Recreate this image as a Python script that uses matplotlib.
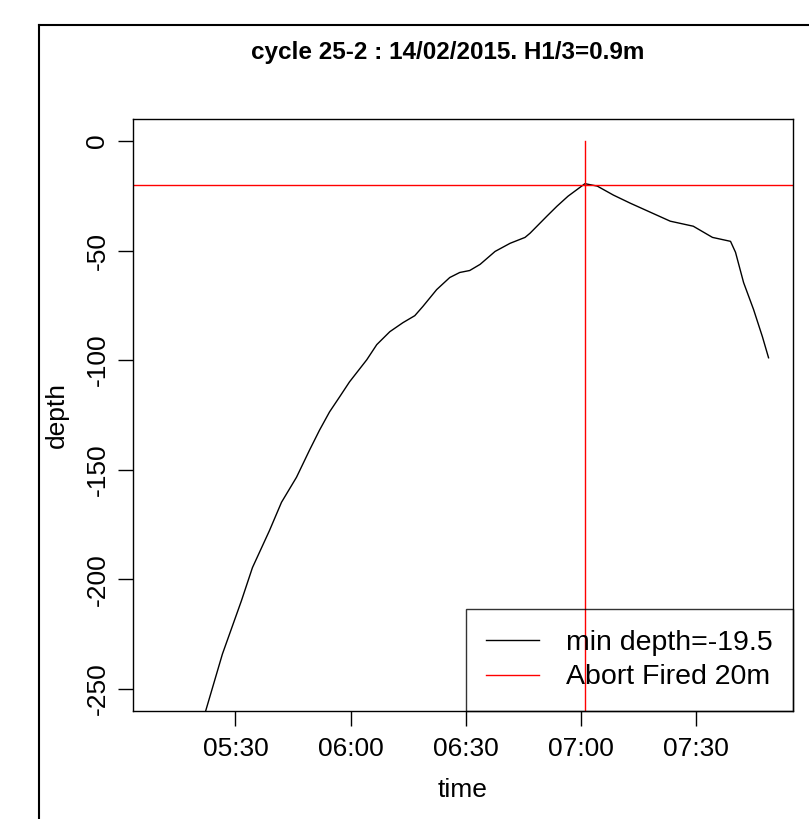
import matplotlib
matplotlib.use("Agg")
import matplotlib.pyplot as plt
import matplotlib.dates as mdates
from matplotlib.lines import Line2D
import pandas as pd

# donnees (heure, profondeur)
heures = ["05:09:42", "05:22:10", "05:26:37", "05:31:34", "05:34:26", "05:38:52",
          "05:42:00", "05:45:54", "05:49:18", "05:51:54", "05:54:30", "05:57:06",
          "05:59:42", "06:04:12", "06:06:48", "06:10:12", "06:13:36", "06:16:42",
          "06:18:48", "06:22:24", "06:25:48", "06:28:24", "06:31:00", "06:33:42",
          "06:37:36", "06:41:30", "06:45:24", "06:46:42", "06:51:06", "06:53:42",
          "06:56:36", "07:01:00", "07:04:12", "07:08:24", "07:12:48", "07:18:00",
          "07:23:12", "07:29:12", "07:34:12", "07:38:54", "07:40:12", "07:42:18",
          "07:44:54", "07:47:12", "07:48:48"]
profondeur = [-335, -260.5, -234, -209.7, -194.6, -177.7,
              -164.8, -153.4, -141.0, -131.9, -123.6, -116.8,
              -109.9, -99.8, -92.9, -87.0, -82.9, -79.7,
              -75.5, -67.8, -62.3, -60.0, -59.1, -56.3,
              -50.4, -46.7, -44.0, -42.1, -34.3, -29.8,
              -25.2, -19.5, -20.6, -24.7, -28.4, -32.5,
              -36.6, -38.9, -44.0, -45.8, -50.8, -64.6,
              -76.9, -89.3, -98.9]
heure_abort = "07:01:00"
seuil = -20
titre = "cycle 25-2 : 14/02/2015. H1/3=0.9m"
legende = ["min depth=-19.5", "Abort Fired 20m"]
yticks = [0, -50, -100, -150, -200, -250]
xticks = ["05:30", "06:00", "06:30", "07:00", "07:30"]

jour = "2015-02-14 "
t = pd.to_datetime([jour + h for h in heures])
t_abort = pd.to_datetime(jour + heure_abort)

plt.rcParams['font.family'] = ['Liberation Sans', 'DejaVu Sans']

fig = plt.figure(figsize=(8.09, 8.19), dpi=100)
ax = fig.add_axes([133/809, 1 - 711/819, (793-133)/809, (711-119)/819])

ax.plot(t, profondeur, color="black", lw=1.0)
ax.axhline(seuil, color="red", lw=1.0)
ax.plot([t_abort, t_abort], [0, -400], color="red", lw=1.0)

# limites a la R (4% de marge)
tmin, tmax = mdates.date2num(t[0]), mdates.date2num(t[-1])
marge = (tmax - tmin) * 0.04
ax.set_xlim(tmin - marge, tmax + marge)
ax.set_ylim(-260, 10)

ax.set_xticks(pd.to_datetime([jour + x for x in xticks]))
ax.xaxis.set_major_formatter(mdates.DateFormatter("%H:%M"))
ax.set_yticks(yticks)
ax.set_yticklabels([str(v) for v in yticks], rotation=90, va="center")
ax.tick_params(labelsize=19, length=11, width=1, pad=8)
ax.tick_params(axis="y", pad=6)
for s in ax.spines.values():
    s.set_linewidth(1.0)

ax.set_xlabel("time", fontsize=19, labelpad=12)
ax.set_ylabel("depth", fontsize=19, labelpad=12)
fig.text(448/809, 1 - 52/819, titre, fontsize=17.5, fontweight="bold",
         ha="center", va="center")

leg = ax.legend([Line2D([], [], color="black", lw=1), Line2D([], [], color="red", lw=1)],
                legende, loc="lower right", fontsize=20.5, borderaxespad=0,
                fancybox=False, edgecolor="black", facecolor="none",
                handlelength=1.85, handletextpad=0.95, borderpad=0.72, labelspacing=0.3)
leg.get_frame().set_linewidth(1.0)

# cadre exterieur
fig.add_artist(Line2D([39/809, 39/809], [1 - 25/819, -0.1], color="black", lw=1.5,
                      transform=fig.transFigure, clip_on=False))
fig.add_artist(Line2D([39/809, 1.1], [1 - 25/819, 1 - 25/819], color="black", lw=1.5,
                      transform=fig.transFigure, clip_on=False))

fig.savefig("out.png", dpi=100)
